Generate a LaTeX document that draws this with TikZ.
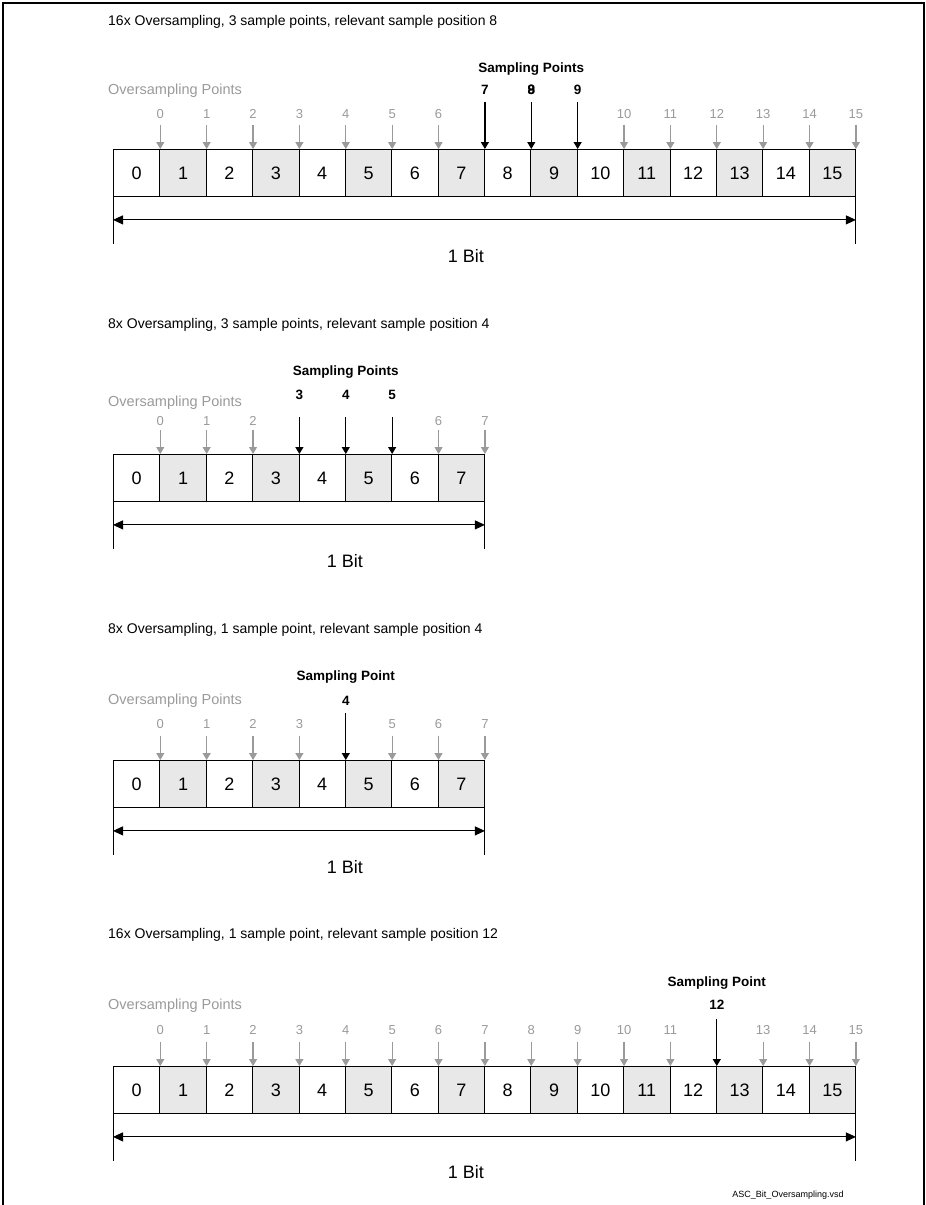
\documentclass[tikz,border=0pt]{standalone}
\usepackage{fontspec}
\setmainfont{Liberation Sans}
\usepackage{xcolor}
\usepackage{tikz}
\usetikzlibrary{arrows.meta, positioning}

\definecolor{ovgray}{HTML}{9A9A9A}
\definecolor{cellgray}{HTML}{E8E8E8}

\tikzset{
	cell/.style={draw, line width=0.9pt, minimum width=46.375pt, minimum height=47pt, inner sep=0pt, anchor=north west, font=\fontsize{18}{18}\selectfont},
	oddcell/.style={cell, fill=cellgray},
	heading/.style={anchor=west, inner sep=0pt, font=\fontsize{14}{14}\selectfont},
	ovtitle/.style={anchor=west, inner sep=0pt, text=ovgray, font=\fontsize{14.5}{14.5}\selectfont},
	ovnum/.style={inner sep=0pt, text=ovgray, font=\fontsize{13}{13}\selectfont},
	ovarrow/.style={draw=ovgray, line width=1.2pt, -{Triangle[width=8pt,length=7pt]}},
	sptitle/.style={inner sep=0pt, font=\bfseries\fontsize{13.5}{13.5}\selectfont},
	spnum/.style={inner sep=0pt, font=\bfseries\fontsize{13.5}{13.5}\selectfont},
	sparrow/.style={draw, line width=1.2pt, -{Triangle[width=8pt,length=7pt]}},
	tick/.style={line width=0.9pt},
	bitarrow/.style={line width=1pt, {Triangle[width=9pt,length=10pt]}-{Triangle[width=9pt,length=10pt]}},
	bitlabel/.style={inner sep=0pt, font=\fontsize{18}{18}\selectfont}
}

\begin{document}
\begin{tikzpicture}[x=1pt, y=-1pt]
	% Frame:
	\useasboundingbox (0,0) rectangle (926,1205);
	\draw[line width=1.5pt] (3,1205) -- (3,3) -- (924,3) -- (924,1205);

	% 16x, 3 sample points:
	\node[heading] (H1) at (108,22) {16x Oversampling, 3 sample points, relevant sample position 8};
	\node[ovtitle] (O1) at (108,91) {Oversampling Points};
	\foreach \i in {0,2,...,14} \node[cell] (A\i) at ({113+46.375*\i},149) {\i};
	\foreach \i in {1,3,...,15} \node[oddcell] (A\i) at ({113+46.375*\i},149) {\i};
	\foreach \k in {0,1,2,3,4,5,6,10,11,12,13,14,15} {
		\node[ovnum] (gA\k) at ([yshift=35pt]A\k.north east) {\k};
		\draw[ovarrow] ([yshift=-6pt]gA\k.south) -- (A\k.north east);
	}
	\foreach \k in {7,8,9} {
		\node[spnum] (sA\k) at ([yshift=59pt]A\k.north east) {\k};
		\draw[sparrow] ([yshift=-7pt]sA\k.south) -- (A\k.north east);
	}
	\node[spnum] (sA8b) at (sA8) {9};
	\node[sptitle] (tA) at ([yshift=80pt]A8.north east) {Sampling Points};
	\coordinate (lA) at ([yshift=-47pt]A0.south west);
	\coordinate (rA) at ([yshift=-47pt]A15.south east);
	\coordinate (laA) at ([yshift=-23pt]A0.south west);
	\coordinate (raA) at ([yshift=-23pt]A15.south east);
	\draw[tick] (A0.south west) -- (lA);
	\draw[tick] (A15.south east) -- (rA);
	\draw[bitarrow] (laA) -- (raA);
	\node[bitlabel] (bA) at (466,256) {1 Bit};

	% 8x, 3 sample points:
	\node[heading] (H2) at (108,325) {8x Oversampling, 3 sample points, relevant sample position 4};
	\node[ovtitle] (O2) at (108,403) {Oversampling Points};
	\foreach \i in {0,2,4,6} \node[cell] (B\i) at ({113+46.375*\i},454) {\i};
	\foreach \i in {1,3,5,7} \node[oddcell] (B\i) at ({113+46.375*\i},454) {\i};
	\foreach \k in {0,1,2,6,7} {
		\node[ovnum] (gB\k) at ([yshift=33pt]B\k.north east) {\k};
		\draw[ovarrow] ([yshift=-4pt]gB\k.south) -- (B\k.north east);
	}
	\foreach \k in {3,4,5} {
		\node[spnum] (sB\k) at ([yshift=59pt]B\k.north east) {\k};
		\draw[sparrow] ([yshift=-17pt]sB\k.south) -- (B\k.north east);
	}
	\node[sptitle] (tB) at ([yshift=82pt]B4.north east) {Sampling Points};
	\coordinate (lB) at ([yshift=-47pt]B0.south west);
	\coordinate (rB) at ([yshift=-47pt]B7.south east);
	\coordinate (laB) at ([yshift=-23pt]B0.south west);
	\coordinate (raB) at ([yshift=-23pt]B7.south east);
	\draw[tick] (B0.south west) -- (lB);
	\draw[tick] (B7.south east) -- (rB);
	\draw[bitarrow] (laB) -- (raB);
	\node[bitlabel] (bB) at (345,561) {1 Bit};

	% 8x, 1 sample point:
	\node[heading] (H3) at (108,630) {8x Oversampling, 1 sample point, relevant sample position 4};
	\node[ovtitle] (O3) at (108,701) {Oversampling Points};
	\foreach \i in {0,2,4,6} \node[cell] (C\i) at ({113+46.375*\i},760) {\i};
	\foreach \i in {1,3,5,7} \node[oddcell] (C\i) at ({113+46.375*\i},760) {\i};
	\foreach \k in {0,1,2,3,5,6,7} {
		\node[ovnum] (gC\k) at ([yshift=36pt]C\k.north east) {\k};
		\draw[ovarrow] ([yshift=-7pt]gC\k.south) -- (C\k.north east);
	}
	\node[spnum] (sC4) at ([yshift=59pt]C4.north east) {4};
	\draw[sparrow] ([yshift=-7pt]sC4.south) -- (C4.north east);
	\node[sptitle] (tC) at ([yshift=83pt]C4.north east) {Sampling Point};
	\coordinate (lC) at ([yshift=-47pt]C0.south west);
	\coordinate (rC) at ([yshift=-47pt]C7.south east);
	\coordinate (laC) at ([yshift=-23pt]C0.south west);
	\coordinate (raC) at ([yshift=-23pt]C7.south east);
	\draw[tick] (C0.south west) -- (lC);
	\draw[tick] (C7.south east) -- (rC);
	\draw[bitarrow] (laC) -- (raC);
	\node[bitlabel] (bC) at (345,867) {1 Bit};

	% 16x, 1 sample point:
	\node[heading] (H4) at (108,935) {16x Oversampling, 1 sample point, relevant sample position 12};
	\node[ovtitle] (O4) at (108,1006) {Oversampling Points};
	\foreach \i in {0,2,...,14} \node[cell] (D\i) at ({113+46.375*\i},1066) {\i};
	\foreach \i in {1,3,...,15} \node[oddcell] (D\i) at ({113+46.375*\i},1066) {\i};
	\foreach \k in {0,1,2,3,4,5,6,7,8,9,10,11,13,14,15} {
		\node[ovnum] (gD\k) at ([yshift=36pt]D\k.north east) {\k};
		\draw[ovarrow] ([yshift=-7pt]gD\k.south) -- (D\k.north east);
	}
	\node[spnum] (sD12) at ([yshift=61pt]D12.north east) {12};
	\draw[sparrow] ([yshift=-9pt]sD12.south) -- (D12.north east);
	\node[sptitle] (tD) at ([yshift=83pt]D12.north east) {Sampling Point};
	\coordinate (lD) at ([yshift=-47pt]D0.south west);
	\coordinate (rD) at ([yshift=-47pt]D15.south east);
	\coordinate (laD) at ([yshift=-23pt]D0.south west);
	\coordinate (raD) at ([yshift=-23pt]D15.south east);
	\draw[tick] (D0.south west) -- (lD);
	\draw[tick] (D15.south east) -- (rD);
	\draw[bitarrow] (laD) -- (raD);
	\node[bitlabel] (bD) at (466,1172) {1 Bit};

	\node[inner sep=0pt, font=\fontsize{9}{9}\selectfont] (F) at (788,1195) {ASC\_Bit\_Oversampling.vsd};
\end{tikzpicture}
\end{document}
